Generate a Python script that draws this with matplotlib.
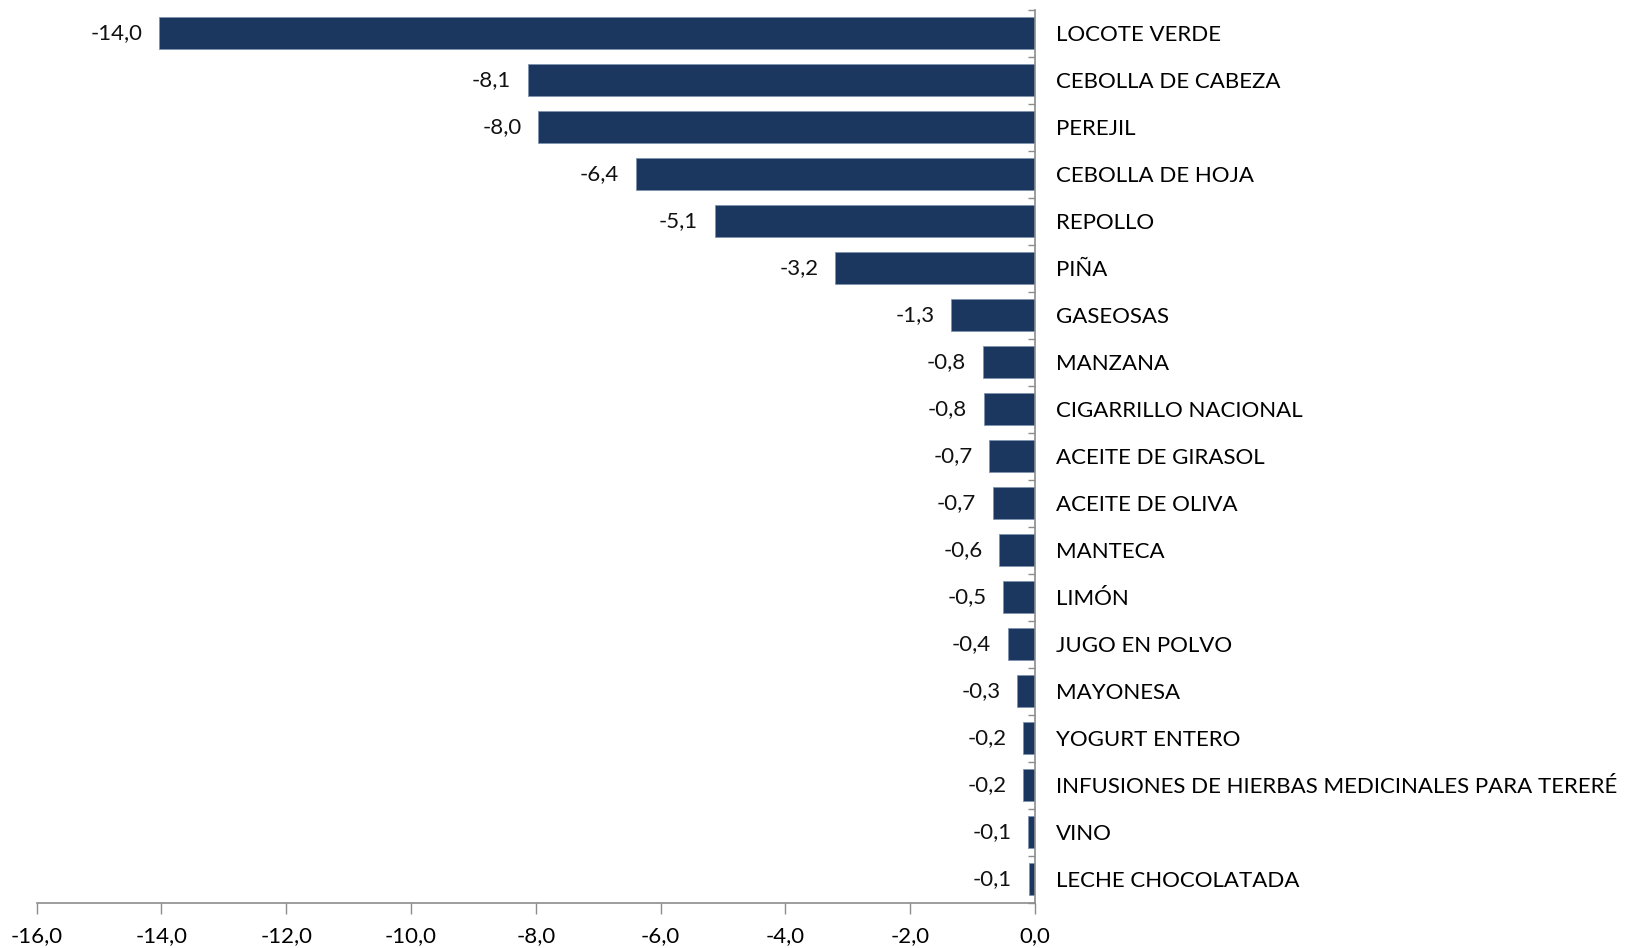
import matplotlib.pyplot as plt
import numpy as np

plt.rcParams['font.family'] = ['Lato', 'DejaVu Sans']

# Productos y variación (%)
productos = ["LOCOTE VERDE", "CEBOLLA DE CABEZA", "PEREJIL", "CEBOLLA DE HOJA", "REPOLLO",
             "PIÑA", "GASEOSAS", "MANZANA", "CIGARRILLO NACIONAL", "ACEITE DE GIRASOL",
             "ACEITE DE OLIVA", "MANTECA", "LIMÓN", "JUGO EN POLVO", "MAYONESA",
             "YOGURT ENTERO", "INFUSIONES DE HIERBAS MEDICINALES PARA TERERÉ", "VINO",
             "LECHE CHOCOLATADA"]
variacion = [-14.03, -8.13, -7.96, -6.40, -5.13, -3.20, -1.34, -0.84, -0.82, -0.73,
             -0.68, -0.57, -0.51, -0.44, -0.29, -0.19, -0.19, -0.11, -0.10]
xticks = [-16, -14, -12, -10, -8, -6, -4, -2, 0]

def coma(v):
    return f"{v:.1f}".replace(".", ",")

fig = plt.figure(figsize=(16.31, 9.48), dpi=100)
ax = fig.add_axes([0.0224, 0.0475, 0.6122, 0.9422])

y = np.arange(len(productos))
ax.barh(y, variacion, height=0.68, color='#1b375f', edgecolor='#7f93b0', linewidth=0.6)

for yi, v in zip(y, variacion):
    ax.annotate(coma(v), (v, yi), xytext=(-12, 0), textcoords='offset points',
                ha='right', va='center', fontsize=16, color='#111111')

ax.set_xlim(-16, 0)
ax.set_ylim(len(productos) - 0.5, -0.5)

ax.set_xticks(xticks)
ax.set_xticklabels([coma(t) for t in xticks], fontsize=16)
ax.tick_params(axis='x', length=8, width=1, color='#8c8c8c', pad=9)

ax.yaxis.tick_right()
ax.set_yticks(y)
ax.set_yticklabels(productos, fontsize=16)
ax.tick_params(axis='y', which='major', length=0, pad=15)
ax.set_yticks(np.arange(-0.5, len(productos)), minor=True)
ax.tick_params(axis='y', which='minor', direction='in', length=5, width=1, color='#8c8c8c')

for s in ['left', 'top']:
    ax.spines[s].set_visible(False)
for s in ['right', 'bottom']:
    ax.spines[s].set_color('#8c8c8c')
    ax.spines[s].set_linewidth(1.2)

fig.savefig('out.png', dpi=100)
